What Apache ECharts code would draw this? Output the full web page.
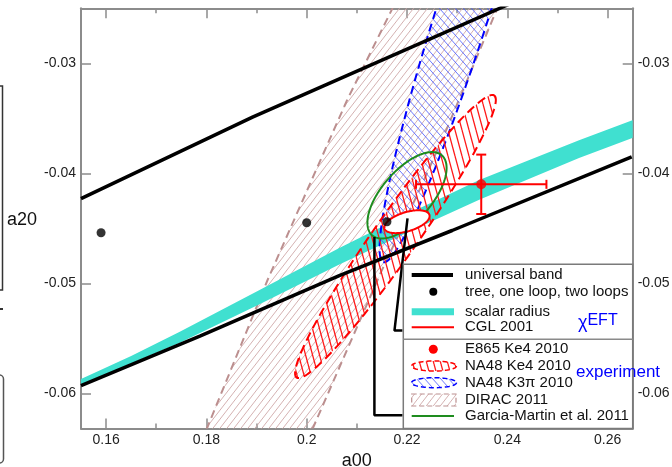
<!DOCTYPE html>
<html>
<head>
<meta charset="utf-8">
<script src="https://cdn.jsdelivr.net/npm/echarts@6/dist/echarts.min.js"></script>
<style>
  html, body { margin: 0; padding: 0; background: #fff; }
  #chart { width: 672px; height: 467px; }
</style>
</head>
<body>
<div id="chart"></div>
<script>
// ---- axis ticks -------------------------------------------------------
const xMajorTicks = [0.16, 0.18, 0.20, 0.22, 0.24, 0.26];
const xMinorTicks = [0.17, 0.19, 0.21, 0.23, 0.25];
const yTicks = [-0.06, -0.05, -0.04, -0.03];

// ---- universal band: upper and lower edge (a00, a20) -----------------
const universalUpper = [[0.155, -0.0423], [0.1892, -0.0349], [0.2046, -0.0318], [0.2390, -0.0249], [0.2420, -0.0243]];
const universalLower = [[0.155, -0.0593], [0.1787, -0.0548], [0.2065, -0.0493], [0.2290, -0.0452], [0.2648, -0.0385]];

// ---- ChPT: tree, one loop, two loops ---------------------------------
const chptPoints = [[0.159, -0.0454], [0.200, -0.0445], [0.216, -0.0444]];

// ---- scalar radius band ----------------------------------------------
const radiusA00    = [0.154, 0.165, 0.1747, 0.1906, 0.2065, 0.2205, 0.2344, 0.2444, 0.2543, 0.266];
const radiusTop    = [-0.0589, -0.0566, -0.0544, -0.0506, -0.0468, -0.0436, -0.0406, -0.0388, -0.0370, -0.0350];
const radiusBottom = [-0.0594, -0.0573, -0.0554, -0.0519, -0.0483, -0.0453, -0.0424, -0.0405, -0.0386, -0.0366];

// ---- CGL 2001 ellipse: centre, half-axis vectors ---------------------
const cglCenter = [0.220, -0.0444];
const cglAxes = [[0.00447, 0.000625], [0.00055, -0.00083]];

// ---- Garcia-Martin et al. 2011 ---------------------------------------
const gmCenter = [0.2200, -0.0420];
const gmAxes = [[0.00695, 0.00363], [0.00374, -0.00150]];

// ---- NA48 Ke4 2010 ----------------------------------------------------
const ke4Center = [0.2177, -0.04575];
const ke4Axes = [[0.0197, 0.01282], [0.00353, -0.00113]];

// ---- NA48 K3pi 2010 ---------------------------------------------------
const k3piCenter = [0.2315, -0.0248];
const k3piAxes = [[-0.01622, -0.02327], [0.00500, -0.00073]];

// ---- DIRAC 2011: left and right edges --------------------------------
const diracLeft  = [[0.1780, -0.0655], [0.1801, -0.0632], [0.1922, -0.0497], [0.2010, -0.0406], [0.2081, -0.0333], [0.2171, -0.0250], [0.2190, -0.0230]];
const diracRight = [[0.1990, -0.0655], [0.2012, -0.0632], [0.2147, -0.0491], [0.2225, -0.0415], [0.2278, -0.0361], [0.2380, -0.0250], [0.2400, -0.0230]];

// ---- E865 Ke4 2010: value and errors ---------------------------------
const e865 = [0.2348, -0.0410];
const e865Err = [0.0130, 0.0027];

// ---- pointer lines from the legend -----------------------------------
const cglPointer = [[0.2201, -0.0441], [0.2175, -0.0543], [0.2191, -0.0543]];
const gmPointer  = [[0.2135, -0.0458], [0.2135, -0.0620], [0.2191, -0.0620]];

// ----------------------------------------------------------------------
function ellipsePoints(c, axes, n) {
  const pts = [];
  for (let i = 0; i < n; i++) {
    const t = 2 * Math.PI * i / n;
    pts.push([c[0] + axes[0][0] * Math.cos(t) + axes[1][0] * Math.sin(t),
              c[1] + axes[0][1] * Math.cos(t) + axes[1][1] * Math.sin(t)]);
  }
  return pts;
}

// repeating hatch tile: dir 1 = '/', dir -1 = '\'
function makeHatch(color, w, h, dir, lw) {
  const c = document.createElement('canvas');
  c.width = w; c.height = h;
  const g = c.getContext('2d');
  g.strokeStyle = color; g.lineWidth = lw;
  g.beginPath();
  for (const off of [-w, 0, w]) {
    if (dir > 0) { g.moveTo(off, h); g.lineTo(off + w, 0); }
    else { g.moveTo(off, 0); g.lineTo(off + w, h); }
  }
  g.stroke();
  return { image: c, repeat: 'repeat' };
}

const diracHatch = makeHatch('#cfa8a8', 7, 9, 1, 0.9);
const k3piHatch  = makeHatch('#4455ff', 8, 9, -1, 0.8);
const ke4Hatch   = makeHatch('#ff1a1a', 7, 26, -1, 1.3);

function areaSeries(points, style) {
  return {
    type: 'custom', coordinateSystem: 'cartesian2d', silent: true,
    data: [[0.2, -0.04]],
    renderItem(params, api) {
      const cs = params.coordSys;
      return {
        type: 'group',
        clipPath: { type: 'rect', shape: { x: cs.x, y: cs.y, width: cs.width, height: cs.height } },
        children: [{ type: 'polygon', shape: { points: points.map(p => api.coord(p)) }, style }]
      };
    }
  };
}

const diracPoly = diracLeft.concat(diracRight.slice().reverse());
const radiusPoly = radiusA00.map((x, i) => [x, radiusTop[i]])
  .concat(radiusA00.map((x, i) => [x, radiusBottom[i]]).reverse());

const errorBarSeries = {
  type: 'custom', coordinateSystem: 'cartesian2d', silent: true,
  data: [[e865[0], e865[1], e865Err[0], e865Err[1]]],
  renderItem(params, api) {
    const x = api.value(0), y = api.value(1), ex = api.value(2), ey = api.value(3);
    const l = api.coord([x - ex, y]), r = api.coord([x + ex, y]);
    const t = api.coord([x, y + ey]), b = api.coord([x, y - ey]);
    const st = { stroke: '#ff0000', lineWidth: 2 };
    return {
      type: 'group',
      children: [
        { type: 'line', shape: { x1: l[0], y1: l[1], x2: r[0], y2: r[1] }, style: st },
        { type: 'line', shape: { x1: t[0], y1: t[1], x2: b[0], y2: b[1] }, style: st },
        { type: 'line', shape: { x1: l[0], y1: l[1] - 4.5, x2: l[0], y2: l[1] + 4.5 }, style: st },
        { type: 'line', shape: { x1: r[0], y1: r[1] - 4.5, x2: r[0], y2: r[1] + 4.5 }, style: st },
        { type: 'line', shape: { x1: t[0] - 5, y1: t[1], x2: t[0] + 5, y2: t[1] }, style: st },
        { type: 'line', shape: { x1: b[0] - 5, y1: b[1], x2: b[0] + 5, y2: b[1] }, style: st }
      ]
    };
  }
};

const axisGray = '#8c8c8c';
const labelColor = '#222';
const fontFam = '"Liberation Sans", Arial, Helvetica, sans-serif';
const X_MIN = 0.155, X_MAX = 0.265, Y_MIN = -0.0632, Y_MAX = -0.025;

function xAxisDef(pos, ticks, len, withLine, withLabels) {
  return {
    type: 'value', position: pos, min: X_MIN, max: X_MAX,
    axisLine: { show: withLine, onZero: false, lineStyle: { color: axisGray, width: 2 } },
    axisTick: { show: true, inside: true, length: len, customValues: ticks, lineStyle: { color: axisGray, width: 1.5 } },
    axisLabel: withLabels ? {
      show: true, customValues: ticks, margin: 5, color: labelColor, fontSize: 14, fontFamily: fontFam,
      formatter: v => String(parseFloat(v.toFixed(2)))
    } : { show: false },
    splitLine: { show: false }
  };
}
function yAxisDef(pos) {
  return {
    type: 'value', position: pos, min: Y_MIN, max: Y_MAX,
    axisLine: { show: true, onZero: false, lineStyle: { color: axisGray, width: 2 } },
    axisTick: { show: true, inside: true, length: 10, customValues: yTicks, lineStyle: { color: axisGray, width: 1.5 } },
    axisLabel: { show: true, customValues: yTicks, margin: 5, color: labelColor, fontSize: 14, fontFamily: fontFam,
      formatter: v => v.toFixed(2) },
    splitLine: { show: false }
  };
}

const xMain = xAxisDef('bottom', xMajorTicks, 10, true, true);
xMain.name = 'a00';
xMain.nameLocation = 'middle';
xMain.nameGap = 21;
xMain.nameTextStyle = { fontSize: 18, color: '#111', fontFamily: fontFam };

// ---- legend block (drawn over the plot, lower right) -----------------
function pxEllipse(cx, cy, rx, ry) {
  const pts = [];
  for (let i = 0; i < 60; i++) { const t = 2 * Math.PI * i / 60; pts.push([cx + rx * Math.cos(t), cy + ry * Math.sin(t)]); }
  return pts;
}
const LX = 403.3, LY = 264.3, LW = 229.4, LH = 164.2;
const symL = 411.7, symR = 454, textX = 465;
const legendText = (txt, y) => ({ type: 'text', x: textX, y, style: { text: txt, fontSize: 15, fontFamily: fontFam, fill: '#111', verticalAlign: 'middle' } });
const legend = [
  { type: 'rect', shape: { x: LX, y: LY, width: LW, height: LH }, style: { fill: '#fff', stroke: '#7a7a7a', lineWidth: 1.5 } },
  { type: 'line', shape: { x1: LX, y1: 339.3, x2: LX + LW, y2: 339.3 }, style: { stroke: '#8a8a8a', lineWidth: 1.5 } },
  { type: 'line', shape: { x1: symL, y1: 275, x2: symR - 1, y2: 275 }, style: { stroke: '#000', lineWidth: 4 } },
  legendText('universal band', 275),
  { type: 'circle', shape: { cx: 433.3, cy: 291.7, r: 4 }, style: { fill: '#000' } },
  legendText('tree, one loop, two loops', 291.7),
  { type: 'rect', shape: { x: symL, y: 308.3, width: symR - symL, height: 7 }, style: { fill: '#40e0d0' } },
  legendText('scalar radius', 311.7),
  { type: 'line', shape: { x1: symL, y1: 327.3, x2: symR, y2: 327.3 }, style: { stroke: '#ff0000', lineWidth: 2 } },
  legendText('CGL 2001', 327.3),
  { type: 'text', x: 578, y: 321, style: { text: '{c|χ}{e|EFT}', verticalAlign: 'middle', rich: {
      c: { fontSize: 18, fontFamily: fontFam, fill: '#0000ff', verticalAlign: 'bottom', padding: [5, 0, 0, 0] },
      e: { fontSize: 16, fontFamily: fontFam, fill: '#0000ff' } } } },
  { type: 'circle', shape: { cx: 433.3, cy: 349.3, r: 4.5 }, style: { fill: '#ff0000' } },
  legendText('E865 Ke4 2010', 349.3),
  { type: 'polygon', shape: { points: pxEllipse(434, 366, 22.5, 5) }, style: { fill: ke4Hatch, stroke: '#ff0000', lineWidth: 1.5, lineDash: [5, 3] } },
  legendText('NA48 Ke4 2010', 366),
  { type: 'polygon', shape: { points: pxEllipse(434, 382.7, 22.5, 5) }, style: { fill: k3piHatch, stroke: '#0000ff', lineWidth: 1.5, lineDash: [5, 3] } },
  legendText('NA48 K3π 2010', 382.7),
  { type: 'rect', shape: { x: symL, y: 394, width: 44.3, height: 12 }, style: { fill: diracHatch, stroke: '#bc8f8f', lineWidth: 1.2, lineDash: [5, 3] } },
  legendText('DIRAC 2011', 400),
  { type: 'line', shape: { x1: symL, y1: 416, x2: symR, y2: 416 }, style: { stroke: '#1e8c1e', lineWidth: 2 } },
  legendText('Garcia-Martin et al. 2011', 416),
  { type: 'text', x: 576, y: 372.7, style: { text: 'experiment', fontSize: 17, fontFamily: fontFam, fill: '#0000ff', verticalAlign: 'middle' } },
  { type: 'text', x: 7, y: 220, style: { text: 'a20', fontSize: 18, fontFamily: fontFam, fill: '#111', verticalAlign: 'middle' } },
  // edge of the neighbouring panel
  { type: 'polyline', shape: { points: [[0, 86], [2.5, 86], [2.5, 290], [0, 290]] }, style: { stroke: '#333', lineWidth: 1.5, fill: null } },
  { type: 'line', shape: { x1: 0, y1: 309, x2: 3, y2: 309 }, style: { stroke: '#333', lineWidth: 2 } },
  { type: 'rect', shape: { x: -10, y: 375, width: 13.5, height: 88, r: 4 }, style: { fill: null, stroke: '#555', lineWidth: 1.5 } }
].map(e => Object.assign({ z: 100 }, e));

const option = {
  animation: false,
  backgroundColor: '#fff',
  grid: { left: 81, right: 39.3, top: 8.3, bottom: 38.5, containLabel: false, outerBoundsMode: 'none' },
  xAxis: [
    xMain,
    xAxisDef('bottom', xMinorTicks, 5, false, false),
    xAxisDef('top', xMajorTicks, 10, true, false),
    xAxisDef('top', xMinorTicks, 5, false, false)
  ],
  yAxis: [yAxisDef('left'), yAxisDef('right')],
  series: [
    areaSeries(diracPoly, { fill: diracHatch, stroke: '#bc8f8f', lineWidth: 2, lineDash: [8, 5] }),
    areaSeries(radiusPoly, { fill: '#40e0d0', stroke: null }),
    areaSeries(ellipsePoints(k3piCenter, k3piAxes, 240), { fill: k3piHatch, stroke: '#0000ff', lineWidth: 2, lineDash: [8, 5] }),
    areaSeries(ellipsePoints(ke4Center, ke4Axes, 240), { fill: ke4Hatch, stroke: '#ff0000', lineWidth: 2, lineDash: [9, 5] }),
    { type: 'line', data: universalUpper, showSymbol: false, silent: true, clip: true,
      lineStyle: { color: '#000', width: 3.5 } },
    { type: 'line', data: universalLower, showSymbol: false, silent: true, clip: true,
      lineStyle: { color: '#000', width: 3.5 } },
    areaSeries(ellipsePoints(gmCenter, gmAxes, 200), { fill: null, stroke: '#1e8c1e', lineWidth: 2 }),
    areaSeries(ellipsePoints(cglCenter, cglAxes, 160), { fill: '#fff', stroke: '#ff0000', lineWidth: 2 }),
    { type: 'line', data: cglPointer, showSymbol: false, silent: true, lineStyle: { color: '#000', width: 2.5 } },
    { type: 'line', data: gmPointer, showSymbol: false, silent: true, lineStyle: { color: '#000', width: 2.5 } },
    { type: 'scatter', data: chptPoints, symbolSize: 9, itemStyle: { color: '#000' }, silent: true },
    errorBarSeries,
    { type: 'scatter', data: [e865], symbolSize: 10, itemStyle: { color: '#ff0000' }, silent: true }
  ],
  graphic: { elements: legend }
};

const chart = echarts.init(document.getElementById('chart'), null, { renderer: 'canvas' });
chart.setOption(option);
</script>
</body>
</html>
